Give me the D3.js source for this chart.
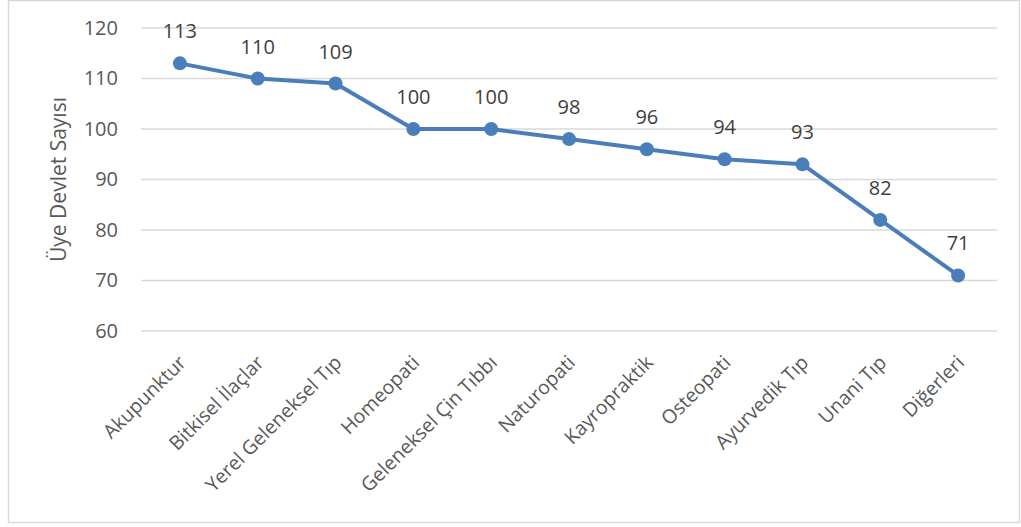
<!DOCTYPE html>
<html>
<head>
<meta charset="utf-8">
<script src="https://cdn.jsdelivr.net/npm/d3@7/dist/d3.min.js"></script>
<style>
  body { margin: 0; background: #fff; }
  svg { display: block; font-family: "Open Sans", sans-serif; }
</style>
</head>
<body>
<svg id="chart" width="1021" height="527"></svg>
<script>
// categories and counts
var categories = ["Akupunktur", "Bitkisel İlaçlar", "Yerel Geleneksel Tıp", "Homeopati",
    "Geleneksel Çin Tıbbı", "Naturopati", "Kayropraktik", "Osteopati",
    "Ayurvedik Tıp", "Unani Tıp", "Diğerleri"];
var counts = [113, 110, 109, 100, 100, 98, 96, 94, 93, 82, 71];
var yTicks = [60, 70, 80, 90, 100, 110, 120];
var yTitle = "Üye Devlet Sayısı";

var svg = d3.select("#chart");

var margins = { top: 28, bottom: 196, left: 141, right: 24 };
var width = 1021 - margins.left - margins.right;
var height = 527 - margins.top - margins.bottom;

// outer frame
svg.append("rect")
    .attr("x", 8.5)
    .attr("y", 0.5)
    .attr("width", 1011)
    .attr("height", 522)
    .attr("fill", "#fff")
    .attr("stroke", "#d9d9d9")
    .attr("stroke-width", 1.5);

var g = svg.append("g")
    .attr("transform", "translate(" + margins.left + "," + margins.top + ")");

var x = d3.scalePoint()
    .domain(categories)
    .range([0, width])
    .padding(0.5);

var y = d3.scaleLinear()
    .domain([60, 120])
    .range([height, 0]);

// gridlines
g.selectAll(".grid")
    .data(yTicks)
    .enter().append("line")
    .attr("class", "grid")
    .attr("x1", 0)
    .attr("x2", width)
    .attr("y1", d => y(d))
    .attr("y2", d => y(d))
    .attr("stroke", "#d9d9d9")
    .attr("stroke-width", 1.5);

// y axis labels
var yAxis = g.append("g")
    .call(d3.axisLeft(y).tickValues(yTicks).tickSize(0).tickPadding(23));
yAxis.select(".domain").remove();
yAxis.selectAll("text")
    .attr("fill", "#595959")
    .style("font-size", "20px")
    .style("font-family", "Open Sans, sans-serif");

// y title
svg.append("text")
    .attr("transform", "translate(66," + (margins.top + height / 2) + ") rotate(-90)")
    .attr("text-anchor", "middle")
    .attr("fill", "#595959")
    .style("font-size", "21px")
    .text(yTitle);

// x labels, rotated
var xAxis = g.append("g")
    .attr("transform", "translate(0," + height + ")")
    .call(d3.axisBottom(x).tickSize(0).tickPadding(0));
xAxis.select(".domain").remove();
xAxis.selectAll("text")
    .attr("fill", "#595959")
    .style("font-size", "19.5px")
    .style("font-family", "Open Sans, sans-serif")
    .attr("text-anchor", "end")
    .attr("dy", "0.35em")
    .attr("transform", "translate(2,28) rotate(-45)");

var data = categories.map((c, i) => ({ name: c, value: counts[i] }));

var line = d3.line()
    .x(d => x(d.name))
    .y(d => y(d.value));

g.append("path")
    .datum(data)
    .attr("d", line)
    .attr("fill", "none")
    .attr("stroke", "#4a7ebb")
    .attr("stroke-width", 4)
    .attr("stroke-linejoin", "round");

g.selectAll(".dot")
    .data(data)
    .enter().append("circle")
    .attr("class", "dot")
    .attr("cx", d => x(d.name))
    .attr("cy", d => y(d.value))
    .attr("r", 7)
    .attr("fill", "#4a7ebb");

g.selectAll(".val")
    .data(data)
    .enter().append("text")
    .attr("class", "val")
    .attr("x", d => x(d.name))
    .attr("y", d => y(d.value) - 25)
    .attr("text-anchor", "middle")
    .attr("fill", "#404040")
    .style("font-size", "20px")
    .text(d => d.value);
</script>
</body>
</html>
